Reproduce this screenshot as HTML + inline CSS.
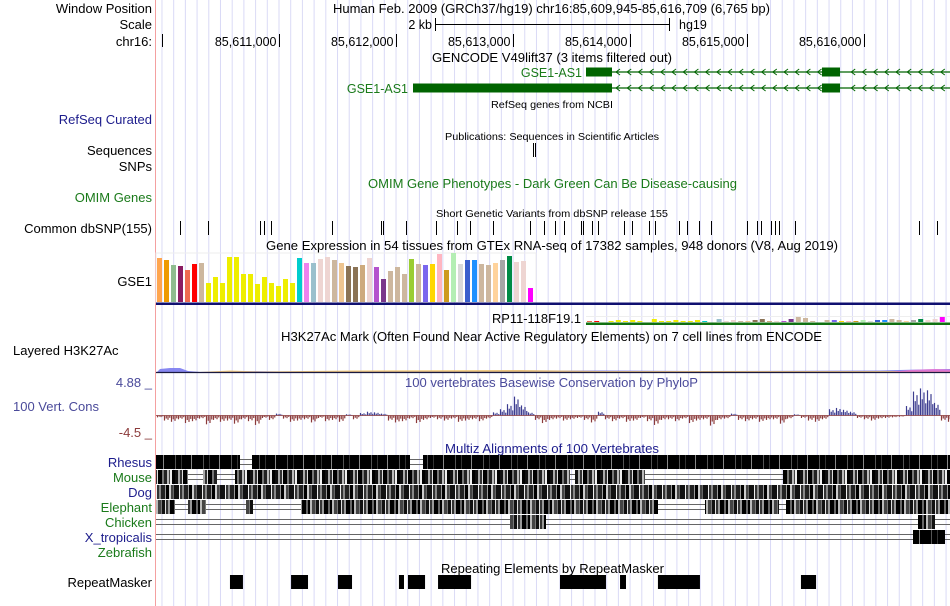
<!DOCTYPE html>
<html><head><meta charset="utf-8"><style>
html,body{margin:0;padding:0;background:#fff;}
svg{display:block;font-family:"Liberation Sans",sans-serif;}
</style></head><body>
<svg id="c" width="950" height="606" viewBox="0 0 950 606" xmlns="http://www.w3.org/2000/svg">
<g id="grid"></g>
<line x1="155.5" y1="0" x2="155.5" y2="606" stroke="#f4a0a0" stroke-width="1"/>
<g font-size="13" fill="#000" text-anchor="end">
<text x="152" y="13">Window Position</text>
<text x="152" y="29">Scale</text>
<text x="152" y="46">chr16:</text>
<text x="152" y="124" fill="#1c1c8c">RefSeq Curated</text>
<text x="152" y="155">Sequences</text>
<text x="152" y="171">SNPs</text>
<text x="152" y="202" fill="#1a7a1a">OMIM Genes</text>
<text x="152" y="233">Common dbSNP(155)</text>
<text x="152" y="286">GSE1</text>
<text x="13" y="355" text-anchor="start">Layered H3K27Ac</text>
<text x="152" y="387" fill="#4a4a9a">4.88 _</text>
<text x="13" y="411" text-anchor="start" fill="#4a4a9a">100 Vert. Cons</text>
<text x="152" y="437" fill="#8b3a3a">-4.5 _</text>
<text x="152" y="467" fill="#1c1c8c">Rhesus</text>
<text x="152" y="482" fill="#1a7a1a">Mouse</text>
<text x="152" y="497" fill="#1c1c8c">Dog</text>
<text x="152" y="512" fill="#1a7a1a">Elephant</text>
<text x="152" y="527" fill="#1a7a1a">Chicken</text>
<text x="152" y="542" fill="#1c1c8c">X_tropicalis</text>
<text x="152" y="557" fill="#1a7a1a">Zebrafish</text>
<text x="152" y="587">RepeatMasker</text>
</g>
<g font-size="12.5" fill="#000">
<text x="333" y="13" textLength="437" lengthAdjust="spacingAndGlyphs">Human Feb. 2009 (GRCh37/hg19)   chr16:85,609,945-85,616,709 (6,765 bp)</text>
<text x="432" y="29" text-anchor="end">2 kb</text>
<text x="679" y="29">hg19</text>
<text x="432" y="62" textLength="240" lengthAdjust="spacingAndGlyphs">GENCODE V49lift37 (3 items filtered out)</text>
<text x="491" y="108" font-size="10.5" textLength="122" lengthAdjust="spacingAndGlyphs">RefSeq genes from NCBI</text>
<text x="445" y="140" font-size="10.5" textLength="214" lengthAdjust="spacingAndGlyphs">Publications: Sequences in Scientific Articles</text>
<text x="368" y="188" fill="#1a7a1a" textLength="369" lengthAdjust="spacingAndGlyphs">OMIM Gene Phenotypes - Dark Green Can Be Disease-causing</text>
<text x="436" y="217" font-size="10.5" textLength="232" lengthAdjust="spacingAndGlyphs">Short Genetic Variants from dbSNP release 155</text>
<text x="266" y="250" textLength="572" lengthAdjust="spacingAndGlyphs">Gene Expression in 54 tissues from GTEx RNA-seq of 17382 samples, 948 donors (V8, Aug 2019)</text>
<text x="492" y="323" textLength="89" lengthAdjust="spacingAndGlyphs">RP11-118F19.1</text>
<text x="281" y="341" textLength="541" lengthAdjust="spacingAndGlyphs">H3K27Ac Mark (Often Found Near Active Regulatory Elements) on 7 cell lines from ENCODE</text>
<text x="405" y="387" fill="#4a4a9a" textLength="293" lengthAdjust="spacingAndGlyphs">100 vertebrates Basewise Conservation by PhyloP</text>
<text x="445" y="453" fill="#1c1c8c" textLength="214" lengthAdjust="spacingAndGlyphs">Multiz Alignments of 100 Vertebrates</text>
<text x="441" y="573" textLength="223" lengthAdjust="spacingAndGlyphs">Repeating Elements by RepeatMasker</text>
</g>
<g stroke="#000">
<line x1="435" y1="24.5" x2="670" y2="24.5"/><line x1="435.5" y1="18" x2="435.5" y2="31"/><line x1="669.5" y1="18" x2="669.5" y2="31"/>
</g>
<g id="ruler"></g>
<g id="genes"></g>
<g stroke="#000"><line x1="533.5" y1="143" x2="533.5" y2="157"/><line x1="535.5" y1="143" x2="535.5" y2="157"/></g>
<g id="snps"></g>
<g id="gtex"></g>
<g id="h3k"></g>
<g id="phylop"></g>
<g id="multiz"></g>
<g id="rmsk"></g>
</svg>
<script>
// ---- data ----
const tickValues = [85611000, 85612000, 85613000, 85614000, 85615000, 85616000];
const tickLabels = ["85,611,000","85,612,000","85,613,000","85,614,000","85,615,000","85,616,000"];
const snpPositions = [85610152,85610391,85610835,85610869,85610929,85611450,85611872,85611889,85612083,85612339,85612518,85612630,85612829,85613145,85613264,85613358,85613435,85613581,85613598,85613675,85613726,85613948,85614016,85614162,85614213,85614418,85614486,85614589,85614691,85614999,85615084,85615119,85615204,85615238,85615272,85615409,85616469,85616623];
const gtexValues = [44,42,37,36,32,38,39,19,25,19,45,45,28,28,18,25,19,16,23,19,44,39,39,43,45,42,39,36,35,37,44,35,23,31,35,28,43,38,37,38,48,32,49,38,42,42,38,37,39,42,46,40,41,14];
const gtexColors = ["#FFA54F","#EE9A00","#8FBC8F","#8B1C62","#EE6A50","#FF0000","#CDB79E","#EEEE00","#EEEE00","#EEEE00","#EEEE00","#EEEE00","#EEEE00","#EEEE00","#EEEE00","#EEEE00","#EEEE00","#EEEE00","#EEEE00","#EEEE00","#00CDCD","#EE82EE","#9AC0CD","#EED5D2","#EED5D2","#CDB79E","#EEC591","#8B7355","#8B7355","#CDAA7D","#EED5D2","#B452CD","#7A378B","#CDB79E","#CDB79E","#CDB79E","#9ACD32","#CDB79E","#7A67EE","#FFD700","#FFB6C1","#CD9B1D","#B4EEB4","#D9D9D9","#3A5FCD","#1E90FF","#CDB79E","#CDB79E","#FFD39B","#A6A6A6","#008B45","#EED5D2","#EED5D2","#FF00FF"];
const rp11Values = [1,1,0,1,2,1,2,1,0,3,1,1,2,1,1,2,1,0,3,1,2,1,1,2,3,1,1,1,3,5,4,1,0,2,2,1,1,1,2,1,2,2,3,2,1,2,3,2,3,5];
const phylopValues = [-0.3,-0.8,-1.0,-0.6,-1.2,-0.9,-0.5,-1.4,-0.7,-1.0,
 -0.8,-1.3,-0.6,-0.9,-1.5,-0.4,-0.7,0.3,-0.5,-1.0,
 -0.8,-0.6,-1.1,-0.4,-0.9,-0.7,-1.0,0.2,-0.6,0.4,
 0.6,0.5,0.3,-0.8,-1.1,-0.9,-0.5,-1.2,-0.7,-0.4,
 -0.6,-0.8,-0.5,-1.0,-0.8,-0.6,-0.9,-0.5,0.5,1.0,
 1.8,3.0,1.6,0.5,-0.7,-1.2,-0.7,-0.5,-0.8,-0.6,
 -0.4,-0.7,-1.1,0.6,-0.6,-0.9,-0.5,-1.0,-0.8,-0.4,
 -0.9,-1.5,-0.7,-0.6,-0.9,-0.5,-1.2,-0.8,-0.6,-1.6,
 -0.7,-0.5,0.3,-0.7,-0.9,-0.6,-1.0,-0.7,-0.6,-1.3,
 -0.5,0.2,-0.4,-0.8,-1.0,-0.6,1.0,1.2,0.9,0.6,
 -0.4,-0.6,-0.8,-0.5,-0.4,-0.3,-0.2,1.5,3.8,4.3,
 4.0,2.0,-0.8,-1.0];
const repeatStarts = [85610581,85611103,85611504,85612025,85612102,85612359,85613401,85613914,85614238,85615460];
const repeatEnds   = [85610692,85611248,85611624,85612068,85612248,85612641,85613794,85613965,85614597,85615589];
// ---- axes ----
const X0 = 279, BP0 = 85611000, PXBP = 0.11703;
const xs = bp => X0 + (bp - BP0) * PXBP;
const NS = "http://www.w3.org/2000/svg";
function mk(tag, attrs, parent){const e=document.createElementNS(NS,tag);for(const k in attrs)e.setAttribute(k,attrs[k]);parent.appendChild(e);return e;}
// grid
const grid=document.getElementById('grid');
for(let bp=85609800; xs(bp)<950; bp+=100){ if(xs(bp)<157) continue;
  const l=mk('line',{x1:xs(bp),y1:0,x2:xs(bp),y2:606,stroke:'#dadaf6','stroke-width':1},grid);
  
  
}
// ruler
const ruler=document.getElementById('ruler');
mk('line',{x1:162.5,y1:34,x2:162.5,y2:47,stroke:'#000'},ruler);
tickValues.forEach((v,i)=>{
  const x=Math.round(xs(v))+0.5;
  const l=mk('line',{x1:x,y1:34,x2:x,y2:47,stroke:'#000'},ruler);
  
  
  const t=mk('text',{x:x-3,y:46,'font-size':12.5,'text-anchor':'end'},ruler);
  t.textContent=tickLabels[i];
  
  
});
// genes
const genes=document.getElementById('genes');
const G='#006400';
function geneRow(y, thickStart, label, labelX){
  mk('line',{x1:612,y1:y,x2:950,y2:y,stroke:G,'stroke-width':1.2},genes);
  for(let x=616;x<948;x+=11.2){ if(x>818&&x<843) continue;
    mk('path',{d:`M${x+4} ${y-3} L${x} ${y} L${x+4} ${y+3}`,fill:'none',stroke:G,'stroke-width':1},genes);}
  const r=mk('rect',{x:thickStart,y:y-4.5,width:612-thickStart,height:9,fill:G},genes);
  
  
  mk('rect',{x:822,y:y-4.5,width:18,height:9,fill:G},genes);
  const t=mk('text',{x:labelX,y:y+5,'font-size':12.5,'text-anchor':'end',fill:'#1a7a1a'},genes);
  t.textContent=label;
  
  
}
geneRow(72,586,'GSE1-AS1',582);
geneRow(88,413,'GSE1-AS1',408);
// snps
const snps=document.getElementById('snps');
snpPositions.forEach(p=>{const x=Math.round(xs(p))+0.5;
  const l=mk('line',{x1:x,y1:221,x2:x,y2:235,stroke:'#000'},snps);
  
  
});
// gtex
const gtex=document.getElementById('gtex');
mk('rect',{x:156,y:253,width:380,height:50,fill:'none',stroke:'#eee'},gtex);
const GBASE=302, gy=v=>GBASE-v;
gtexValues.forEach((v,i)=>{
  const b=mk('rect',{x:157+i*7,y:gy(v),width:5,height:v,fill:gtexColors[i]},gtex);
  
  
});
mk('rect',{x:156,y:302.5,width:794,height:2.5,fill:'#101070'},gtex);
rp11Values.forEach((v,i)=>{ if(!v) return;
  const b=mk('rect',{x:587+i*7.2,y:322-v,width:5,height:v,fill:gtexColors[i+4]},gtex);
  
  
});
mk('rect',{x:586,y:322.5,width:364,height:2.5,fill:'#107010'},gtex);
mk('rect',{x:586,y:316,width:364,height:1,fill:'#eee'},gtex);
// h3k27ac
const h3k=document.getElementById('h3k');
mk('path',{d:'M157 372 L160 369 L170 368 L180 368 L188 371 L200 372 L240 371 L280 371.5 L400 371 L460 371 L520 370.5 L600 370.5 L700 371 L880 370.5 L920 369.5 L950 369 L950 372 Z',fill:'#7a7af0',opacity:0.9},h3k);
mk('path',{d:'M200 372 L230 370.5 L260 371.5 L350 370.5 L520 370 L600 371 L950 371 L950 372 Z',fill:'#f0c060',opacity:0.8},h3k);
mk('path',{d:'M890 372 L910 370 L935 369 L950 369.5 L950 372 Z',fill:'#f070d0',opacity:0.8},h3k);
mk('line',{x1:156,y1:372.5,x2:950,y2:372.5,stroke:'#1a1a40','stroke-width':1.2},h3k);
// phylop
const ph=document.getElementById('phylop');
const PZ=415.5, py=v=>PZ-v*6.3;
const pat=[1,0.6,0.85,0.45];
phylopValues.forEach((v,i)=>{
  for(let k=0;k<4;k++){const x=157.5+i*7+k*1.75; const yy=py(v*pat[k]);
    const l=mk('line',{x1:x,y1:PZ,x2:x,y2:yy,stroke:v>=0?'#3c3c90':'#8b3a3a','stroke-width':1.2},ph);
    
    }
});
mk('line',{x1:156,y1:PZ,x2:950,y2:PZ,stroke:'#8b3a3a','stroke-width':0.8},ph);
// multiz
const mz=document.getElementById('multiz');
const defs=mk('defs',{},document.getElementById('c'));
function pattern(id, cols, widths){
  const total=widths.reduce((a,b)=>a+b,0);
  const p=mk('pattern',{id:id,patternUnits:'userSpaceOnUse',width:total,height:14},defs);
  let x=0; cols.forEach((c,i)=>{mk('rect',{x:x,y:0,width:widths[i],height:14,fill:c},p);x+=widths[i];});
}
pattern('pR',['#000','#555','#000','#333','#000','#888','#000'],[7,1,5,1,9,1,4]);
pattern('pM',['#111','#aaa','#333','#ddd','#000','#777','#222','#bbb','#444','#eee','#000'],[3,2,2,1,4,2,3,2,1,2,3]);
pattern('pD',['#222','#999','#000','#ccc','#444','#666','#111','#eee','#333','#888'],[4,1,3,2,2,1,5,1,2,2]);
pattern('pE',['#000','#bbb','#444','#777','#111','#ddd','#333','#999','#000','#666'],[2,2,3,1,3,1,2,2,4,2]);
const rows=[
 {y:455,p:'pR',b:[[156,240],[252,410],[423,950]]},
 {y:470,p:'pM',b:[[156,188],[203,217],[235,570],[575,645],[783,950]]},
 {y:485,p:'pD',b:[[156,950]]},
 {y:500,p:'pE',b:[[156,175],[188,206],[246,253],[301,658],[705,779],[786,950]]},
 {y:515,p:'pE',b:[[510,546],[918,935]]},
 {y:530,p:'pR',b:[[913,945]]}
];
rows.forEach((r,ri)=>{
  const mid=r.y+7;
  if(ri>=4){ mk('line',{x1:156,y1:r.y+4.5,x2:950,y2:r.y+4.5,stroke:'#666'},mz); mk('line',{x1:156,y1:r.y+9.5,x2:950,y2:r.y+9.5,stroke:'#666'},mz);}
  else { mk('line',{x1:156,y1:mid-2.5,x2:950,y2:mid-2.5,stroke:'#666'},mz); mk('line',{x1:156,y1:mid+2.5,x2:950,y2:mid+2.5,stroke:'#666'},mz);}
  r.b.forEach(([a,b])=>{
    const e=mk('rect',{x:a,y:r.y,width:b-a,height:14,fill:`url(#${r.p})`},mz);
    
    
  });
});
// repeatmasker
const rm=document.getElementById('rmsk');
repeatStarts.forEach((s,i)=>{
  const x=xs(s);
  const e=mk('rect',{x:x,y:575,width:xs(repeatEnds[i])-x,height:14,fill:'#000'},rm);
  
  
});
</script>
</body></html>
